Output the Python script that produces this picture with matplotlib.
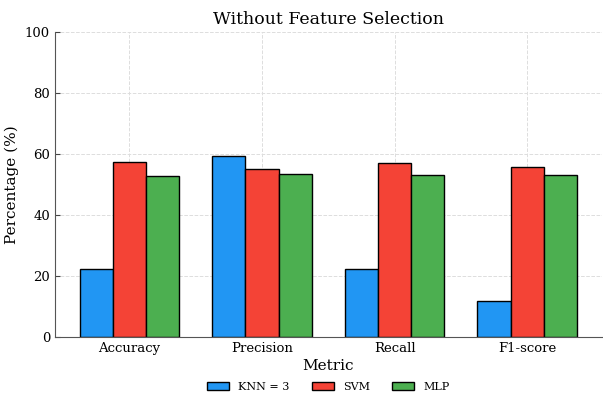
import numpy as np
import matplotlib.pyplot as plt

plt.rcParams['font.family'] = 'DejaVu Serif'

metrics = ['Accuracy', 'Precision', 'Recall', 'F1-score']
knn = [22.3, 59.3, 22.3, 11.8]
svm = [57.4, 55.1, 57.0, 55.7]
mlp = [52.8, 53.3, 53.0, 53.0]

x = np.arange(len(metrics))
w = 0.25

fig, ax = plt.subplots(figsize=(6.03, 3.94), dpi=100)
ax.bar(x - w, knn, w, label='KNN = 3', color='#2196F3', edgecolor='black')
ax.bar(x, svm, w, label='SVM', color='#F44336', edgecolor='black')
ax.bar(x + w, mlp, w, label='MLP', color='#4CAF50', edgecolor='black')

ax.set_title('Without Feature Selection', fontsize=12.5)
ax.set_xlabel('Metric', fontsize=11, labelpad=3)
ax.set_ylabel('Percentage (%)', fontsize=11)
ax.set_xticks(x)
ax.set_xticklabels(metrics)
ax.set_ylim(0, 100)
ax.tick_params(direction='in', labelsize=9.5, color='#444444')
ax.grid(True, linestyle='--', color='#dddddd', linewidth=0.7)
ax.set_axisbelow(True)
for s in ['top', 'right']:
    ax.spines[s].set_visible(False)
for s in ['left', 'bottom']:
    ax.spines[s].set_color('#555555')

ax.legend(loc='center', bbox_to_anchor=(0.5, -0.165), ncol=3, frameon=False, fontsize=8)
fig.subplots_adjust(left=0.091, right=0.998, top=0.919, bottom=0.145)
fig.savefig('out.png')
